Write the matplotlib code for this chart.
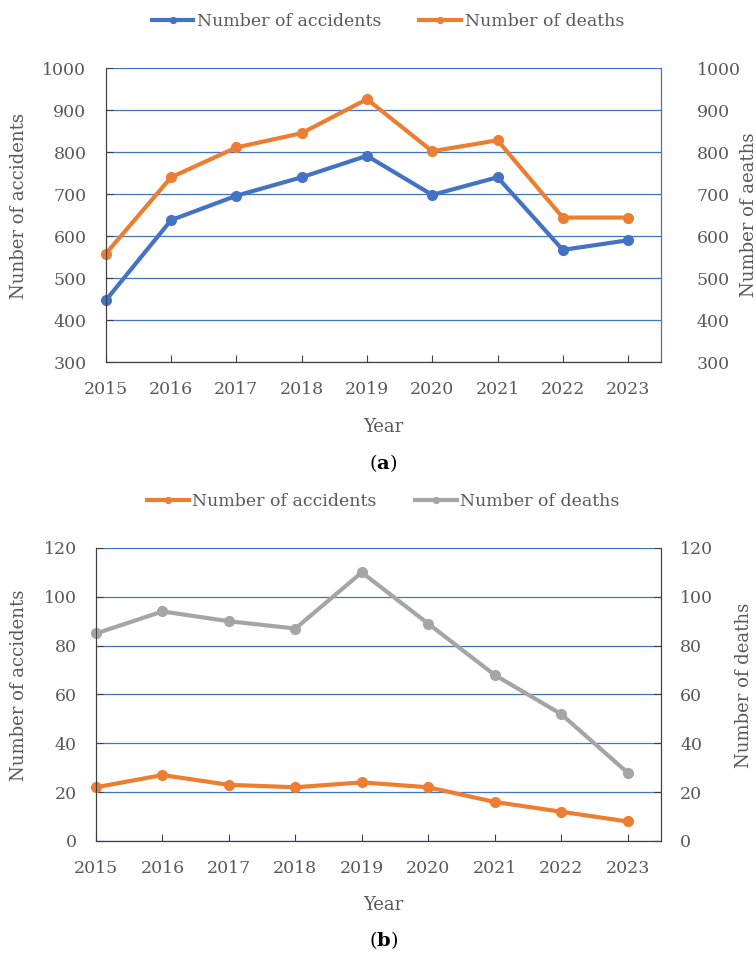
import matplotlib.pyplot as plt

plt.rcParams['font.family'] = ['DejaVu Serif']
plt.rcParams['mathtext.fontset'] = 'custom'
plt.rcParams['mathtext.bf'] = 'DejaVu Serif:bold'
plt.rcParams['mathtext.rm'] = 'DejaVu Serif'

years = [2015, 2016, 2017, 2018, 2019, 2020, 2021, 2022, 2023]

# panel (a)
acc_a = [447, 638, 696, 740, 791, 698, 740, 567, 590]
death_a = [558, 740, 811, 845, 926, 802, 828, 644, 644]

# panel (b)
acc_b = [22, 27, 23, 22, 24, 22, 16, 12, 8]
death_b = [85, 94, 90, 87, 110, 89, 68, 52, 28]

BLUE = '#4472C4'
ORANGE = '#ED7D31'
GRAY = '#A5A5A5'
TXT = '#595959'
FS = 12.5
LFS = 13


def style_axes(ax, ax2, ylim, ticks, right_color):
    ax.set_xlim(2015, 2023.5)
    ax.set_ylim(*ylim)
    ax2.set_ylim(*ylim)
    ax.set_xticks(years)
    ax.set_xticklabels([str(y) for y in years])
    ax.set_yticks(ticks)
    ax2.set_yticks(ticks)
    ax.grid(axis='y', color=BLUE, linewidth=0.9)
    ax.set_axisbelow(True)
    for a in (ax, ax2):
        a.spines['top'].set_visible(False)
        a.spines['left'].set_color('#404040')
        a.spines['bottom'].set_color('#404040')
        a.spines['right'].set_color(right_color)
    ax.tick_params(axis='x', direction='in', length=5, color='#404040',
                   labelsize=FS, labelcolor=TXT, pad=14)
    ax.tick_params(axis='y', direction='in', length=5, color='#404040',
                   labelsize=FS, labelcolor=TXT, pad=14)


fig = plt.figure(figsize=(7.56, 9.56), dpi=100)

# ---- (a) ----
ax = fig.add_axes([0.140, 0.6213, 0.734, 0.3075])
ax2 = ax.twinx()
l1, = ax.plot(years, acc_a, color=BLUE, lw=3, marker='o', ms=7,
              label='Number of accidents', clip_on=False)
l2, = ax2.plot(years, death_a, color=ORANGE, lw=3, marker='o', ms=7,
               label='Number of deaths', clip_on=False)
style_axes(ax, ax2, (300, 1000), range(300, 1001, 100), BLUE)
ax2.tick_params(axis='y', direction='in', length=0, labelsize=FS,
                labelcolor=TXT, pad=26)
ax.set_ylabel('Nunber of accidents', fontsize=LFS, color=TXT)
ax.yaxis.set_label_coords(-0.14, 0.53)
ax2.set_ylabel('Number of aeaths', fontsize=LFS, color=TXT)
ax2.yaxis.set_label_coords(1.142, 0.5)
fig.text(0.507, 1 - 427 / 956, 'Year', ha='center', va='center',
         fontsize=LFS, color=TXT)
fig.text(0.507, 1 - 463 / 956, r'($\mathbf{a}$)', ha='center',
         va='center', fontsize=14, color='black')
fig.legend([l1, l2], ['Number of accidents', 'Number of deaths'],
           loc='center', bbox_to_anchor=(0.513, 1 - 22 / 956), ncol=2,
           frameon=False, fontsize=FS, labelcolor=TXT, handlelength=2.4,
           handletextpad=0.2, columnspacing=2.2, markerscale=0.6)

# ---- (b) ----
bx = fig.add_axes([0.127, 0.1203, 0.747, 0.3065])
bx2 = bx.twinx()
m1, = bx.plot(years, acc_b, color=ORANGE, lw=3, marker='o', ms=7,
              label='Number of accidents', clip_on=False)
m2, = bx2.plot(years, death_b, color=GRAY, lw=3, marker='o', ms=7,
               label='Number of deaths', clip_on=False)
style_axes(bx, bx2, (0, 120), range(0, 121, 20), '#404040')
bx2.tick_params(axis='y', direction='in', length=5, color='#404040',
                labelsize=FS, labelcolor=TXT, pad=14)
bx.set_ylabel('Number of accidents', fontsize=LFS, color=TXT)
bx.yaxis.set_label_coords(-0.12, 0.53)
bx2.set_ylabel('Number of deaths', fontsize=LFS, color=TXT)
bx2.yaxis.set_label_coords(1.131, 0.53)
fig.text(0.507, 1 - 905 / 956, 'Year', ha='center', va='center',
         fontsize=LFS, color=TXT)
fig.text(0.507, 1 - 940 / 956, r'($\mathbf{b}$)', ha='center',
         va='center', fontsize=14, color='black')
fig.legend([m1, m2], ['Number of accidents', 'Number of deaths'],
           loc='center', bbox_to_anchor=(0.507, 1 - 502 / 956), ncol=2,
           frameon=False, fontsize=FS, labelcolor=TXT, handlelength=2.4,
           handletextpad=0.2, columnspacing=2.2, markerscale=0.6)

fig.savefig('out.png', dpi=100)
